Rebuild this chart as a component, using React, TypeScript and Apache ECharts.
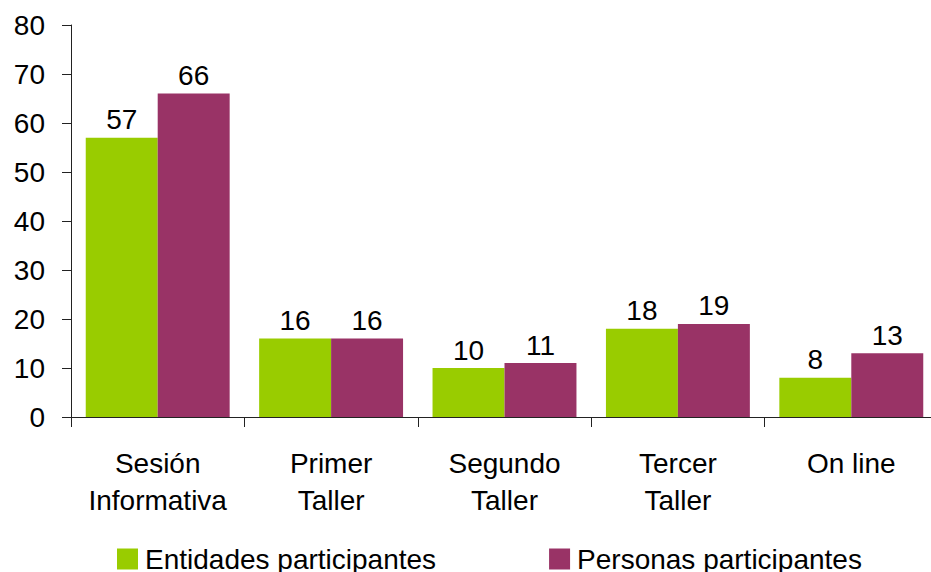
import React, { useEffect, useRef } from "react";
import * as echarts from "echarts";

const categories = ["Sesión\nInformativa", "Primer\nTaller", "Segundo\nTaller", "Tercer\nTaller", "On line"];
const entidades = [57, 16, 10, 18, 8];
const personas = [66, 16, 11, 19, 13];
const seriesNames = ["Entidades participantes", "Personas participantes"];

const FONT = "'Liberation Sans', Arial, sans-serif";
const FS = 28;

export default function App() {
  const ref = useRef<HTMLDivElement>(null);
  useEffect(() => {
    if (!ref.current) return;
    const chart = echarts.init(ref.current, undefined, { renderer: "svg" });
    const labelCfg = {
      show: true,
      position: "top",
      distance: 4,
      fontSize: FS,
      color: "#000",
      fontFamily: FONT,
    };
    chart.setOption({
      animation: false,
      backgroundColor: "#fff",
      textStyle: { fontFamily: FONT },
      grid: { left: 71, top: 25, width: 867, height: 392, containLabel: false },
      legend: {
        left: 112,
        top: 540,
        itemWidth: 21,
        itemHeight: 21,
        itemGap: 113,
        icon: "rect",
        textStyle: { fontSize: FS, color: "#000", fontFamily: FONT, padding: [0, 0, 0, 2] },
        data: seriesNames,
      },
      xAxis: {
        type: "category",
        data: categories,
        axisLine: { lineStyle: { color: "#222", width: 1 } },
        axisTick: { show: true, length: 10, lineStyle: { color: "#222" } },
        axisLabel: {
          fontSize: FS,
          color: "#000",
          fontFamily: FONT,
          margin: 28,
          lineHeight: 37,
          interval: 0,
        },
      },
      yAxis: {
        type: "value",
        min: 0,
        max: 80,
        interval: 10,
        splitLine: { show: false },
        axisLine: { show: true, lineStyle: { color: "#222", width: 1 } },
        axisTick: { show: true, length: 9, lineStyle: { color: "#222" } },
        axisLabel: { fontSize: FS, color: "#000", fontFamily: FONT, margin: 26 },
      },
      series: [
        {
          name: seriesNames[0],
          type: "bar",
          data: entidades,
          itemStyle: { color: "#99CC00" },
          barGap: "0%",
          barCategoryGap: "17%",
          label: labelCfg,
        },
        {
          name: seriesNames[1],
          type: "bar",
          data: personas,
          itemStyle: { color: "#993366" },
          barGap: "0%",
          barCategoryGap: "17%",
          label: labelCfg,
        },
      ],
    });
    return () => chart.dispose();
  }, []);
  return (
    <div
      style={{ position: "fixed", left: 0, top: 0, width: 931, height: 572, overflow: "hidden", background: "#fff" }}
    >
      <div ref={ref} style={{ width: 945, height: 572 }} />
    </div>
  );
}
